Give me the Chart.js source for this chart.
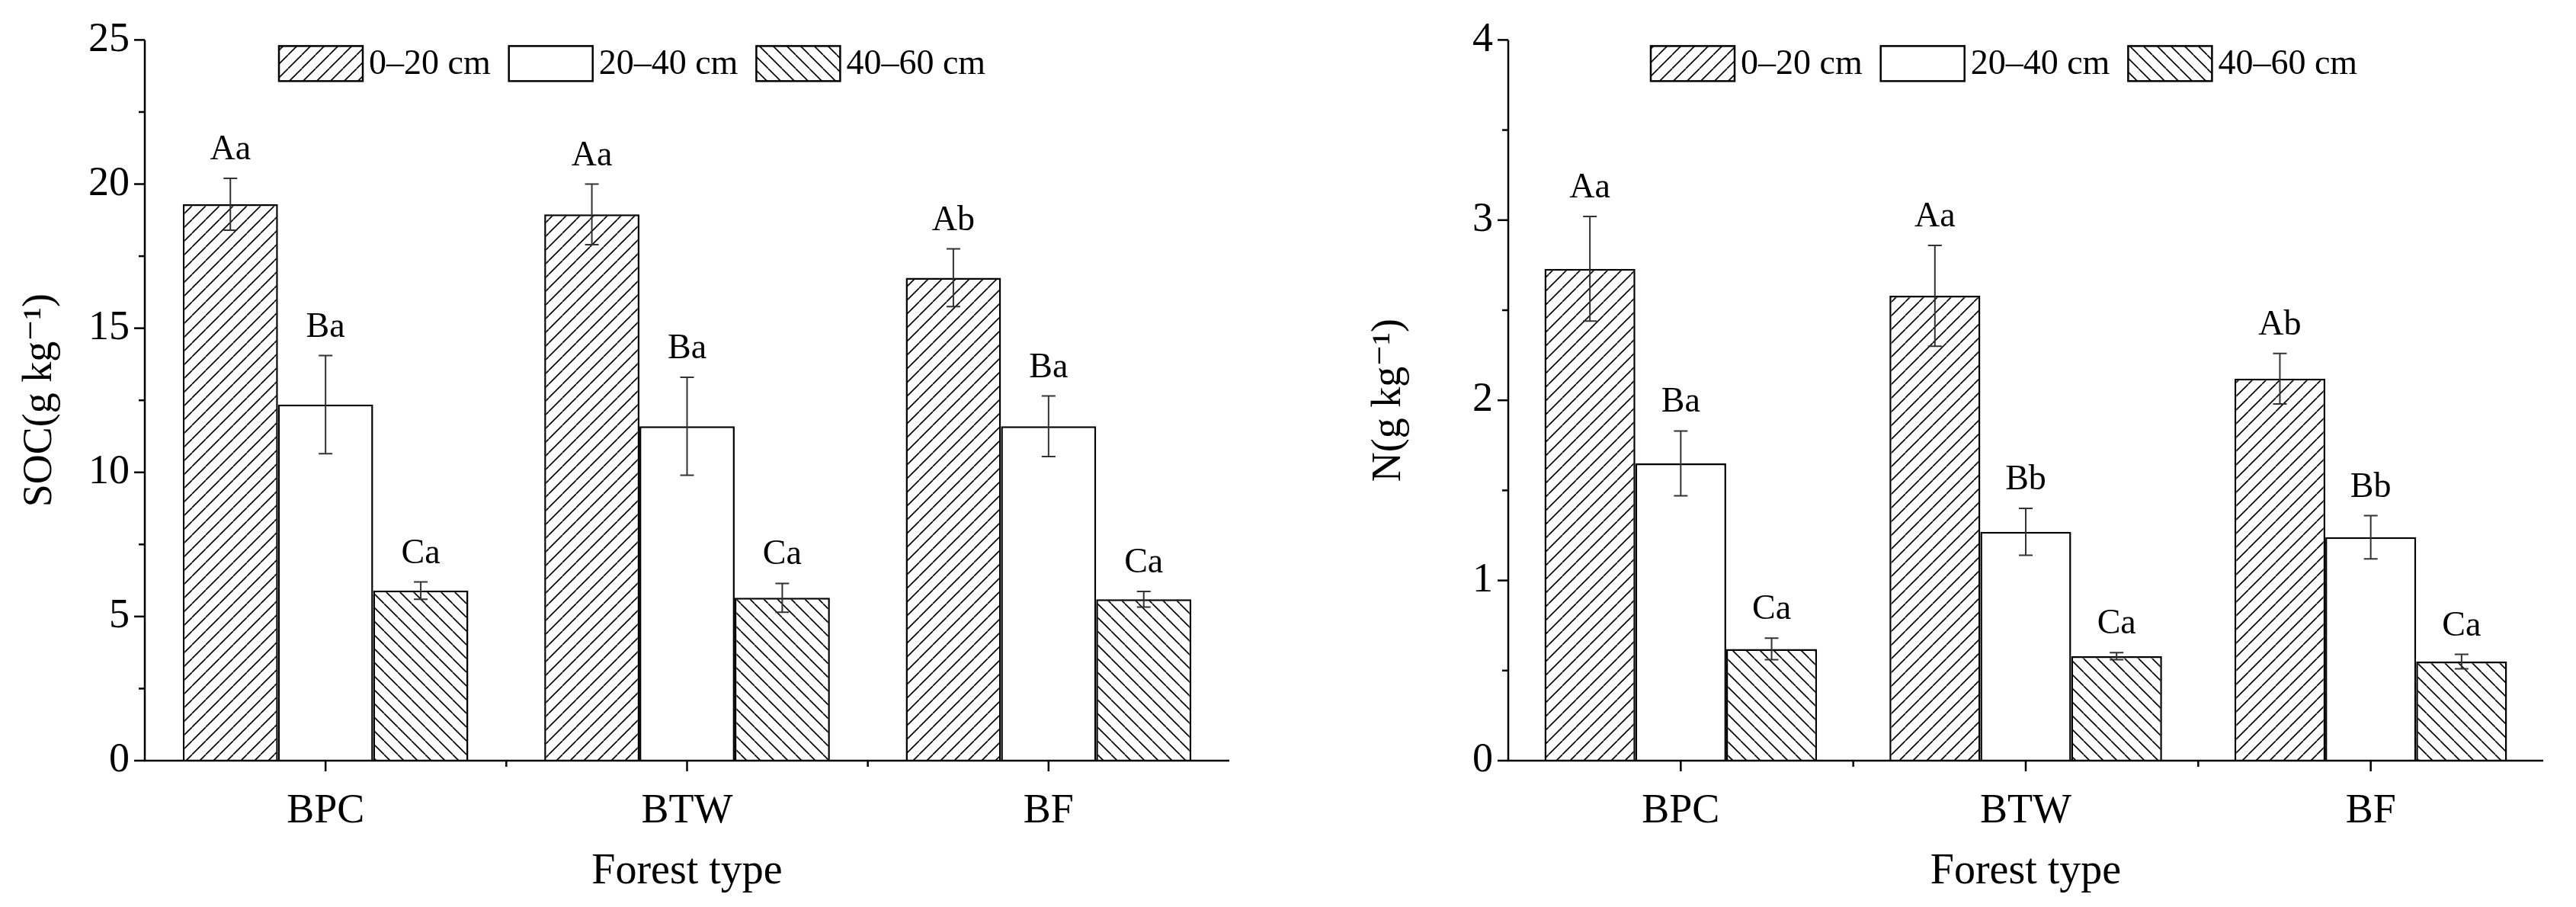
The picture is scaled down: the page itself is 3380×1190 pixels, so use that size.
<!DOCTYPE html>
<html><head><meta charset="utf-8">
<script src="https://cdn.jsdelivr.net/npm/chart.js@4"></script>
<style>html,body{margin:0;padding:0;background:#fff;width:3380px;height:1190px;overflow:hidden}
.w{position:absolute;top:0;width:1690px;height:1190px}</style></head>
<body>
<div class="w" style="left:0"><canvas id="c1"></canvas></div>
<div class="w" style="left:1690px"><canvas id="c2"></canvas></div>
<script>
const categories = ['BPC','BTW','BF'];
const depthLabels = ['0–20 cm','20–40 cm','40–60 cm'];
const soc0 = [19.3, 18.95, 16.75], soc1 = [12.35, 11.6, 11.6], soc2 = [5.9, 5.65, 5.6];
const socErr0 = [0.9, 1.05, 1.0], socErr1 = [1.7, 1.7, 1.05], socErr2 = [0.3, 0.5, 0.27];
const socLet0 = ['Aa','Aa','Ab'], socLet1 = ['Ba','Ba','Ba'], socLet2 = ['Ca','Ca','Ca'];
const n0 = [2.73, 2.58, 2.12], n1 = [1.65, 1.27, 1.24], n2 = [0.62, 0.58, 0.55];
const nErr0 = [0.29, 0.28, 0.14], nErr1 = [0.18, 0.13, 0.12], nErr2 = [0.06, 0.02, 0.04];
const nLet0 = ['Aa','Aa','Ab'], nLet1 = ['Ba','Bb','Bb'], nLet2 = ['Ca','Ca','Ca'];
const socTicks = [0,5,10,15,20,25];
const nTicks = [0,1,2,3,4];

const FONT = '"Liberation Serif", "DejaVu Serif", serif';
function hatch(dir){
  const s = 18, c = document.createElement('canvas'); c.width = s; c.height = s;
  const g = c.getContext('2d'); g.fillStyle='#fff'; g.fillRect(0,0,s,s);
  g.strokeStyle='#000'; g.lineWidth=1.6; g.beginPath();
  if(dir>0){ for(let k=-1;k<=1;k++){ g.moveTo(k*s, s); g.lineTo(k*s+s, 0);} }
  else { for(let k=-1;k<=1;k++){ g.moveTo(k*s, 0); g.lineTo(k*s+s, s);} }
  g.stroke(); return g.createPattern(c,'repeat');
}
const fills = [hatch(1), '#ffffff', hatch(-1)];

const overlay = {
  id:'overlay',
  afterDatasetsDraw(chart, a, opts){
    const ctx = chart.ctx, ys = chart.scales.y, xs = chart.scales.x, ca = chart.chartArea;
    ctx.save();
    chart.data.datasets.forEach((ds, di) => {
      const meta = chart.getDatasetMeta(di);
      meta.data.forEach((bar, i) => {
        const v = ds.data[i], e = ds.err[i];
        const yt = ys.getPixelForValue(v+e), yb = ys.getPixelForValue(v-e);
        ctx.strokeStyle='#333'; ctx.lineWidth=2;
        ctx.beginPath(); ctx.moveTo(bar.x, yt); ctx.lineTo(bar.x, yb);
        ctx.moveTo(bar.x-9, yt); ctx.lineTo(bar.x+9, yt);
        ctx.moveTo(bar.x-9, yb); ctx.lineTo(bar.x+9, yb); ctx.stroke();
        ctx.fillStyle='#000'; ctx.font='46px '+FONT; ctx.textAlign='center'; ctx.textBaseline='bottom';
        ctx.fillText(ds.letters[i], bar.x, yt-14);
      });
    });
    ctx.strokeStyle='#000'; ctx.lineWidth=2.5;
    ctx.beginPath(); ctx.moveTo(ca.left, ca.top); ctx.lineTo(ca.left, ca.bottom); ctx.lineTo(ca.right, ca.bottom); ctx.stroke();
    const st = opts.step;
    for(let v=0; v<=ys.max+1e-9; v+=st/2){
      const y = ys.getPixelForValue(v); const major = Math.abs(v/st - Math.round(v/st))<1e-6;
      ctx.beginPath(); ctx.moveTo(ca.left, y); ctx.lineTo(ca.left-(major?14:8), y); ctx.stroke();
    }
    const n = categories.length;
    for(let i=0;i<n;i++){
      const c = xs.getPixelForValue(i);
      ctx.beginPath(); ctx.moveTo(c, ca.bottom); ctx.lineTo(c, ca.bottom+14); ctx.stroke();
      if(i<n-1){ const b=(c+xs.getPixelForValue(i+1))/2; ctx.beginPath(); ctx.moveTo(b, ca.bottom); ctx.lineTo(b, ca.bottom+8); ctx.stroke(); }
    }
    let lx = opts.legX, ly = ca.top + 8;
    ctx.font='46px '+FONT; ctx.textAlign='left'; ctx.textBaseline='middle';
    chart.data.datasets.forEach((ds) => {
      ctx.fillStyle = ds.backgroundColor; ctx.fillRect(lx, ly, 110, 46);
      ctx.lineWidth=2.5; ctx.strokeRect(lx, ly, 110, 46);
      ctx.fillStyle='#000'; ctx.fillText(ds.label, lx+118, ly+25);
      lx += 118 + ctx.measureText(ds.label).width + 24;
    });
    ctx.restore();
  }
};

function make(id, vals, errs, lets, ticks, yTitle, pad, yw, legX){
  const max = ticks[ticks.length-1], step = ticks[1]-ticks[0];
  new Chart(document.getElementById(id), {
    type:'bar',
    data:{ labels: categories,
      datasets: vals.map((d,k)=>({label:depthLabels[k], data:d, err:errs[k], letters:lets[k],
        backgroundColor:fills[k], borderColor:'#000', borderWidth:2.5, borderSkipped:'bottom',
        barPercentage:1.0, categoryPercentage:0.79})) },
    options:{ responsive:false, animation:false, devicePixelRatio:1,
      layout:{padding:pad},
      plugins:{legend:{display:false}, tooltip:{enabled:false}, overlay:{step, legX}},
      scales:{
        x:{ grid:{display:false, drawTicks:false}, border:{display:false},
            ticks:{color:'#000', font:{family:FONT,size:54}, padding:34},
            title:{display:true, text:'Forest type', color:'#000', font:{family:FONT,size:56}, padding:{top:38}},
            afterFit(s){ s.height = 1190-998-pad.bottom; } },
        y:{ min:0, max:max, grid:{display:false, drawTicks:false}, border:{display:false},
            afterBuildTicks(s){ s.ticks = ticks.map(v=>({value:v})); },
            ticks:{color:'#000', font:{family:FONT,size:54}, padding:20},
            title:{display:true, text:yTitle, color:'#000', font:{family:FONT,size:54}, padding:{bottom:4}},
            afterFit(s){ s.width = yw; } }
      } },
    plugins:[overlay]
  });
}
function sizeCanvas(id){ const c=document.getElementById(id); c.width=1690; c.height=1190; c.style.width='1690px'; c.style.height='1190px'; }
sizeCanvas('c1'); sizeCanvas('c2');
make('c1', [soc0,soc1,soc2], [socErr0,socErr1,socErr2], [socLet0,socLet1,socLet2], socTicks, 'SOC(g kg⁻¹)',
  {top:39,right:77,bottom:8,left:16}, 174, 366);
make('c2', [n0,n1,n2], [nErr0,nErr1,nErr2], [nLet0,nLet1,nLet2], nTicks, 'N(g kg⁻¹)',
  {top:39,right:43,bottom:8,left:96}, 193, 476);
</script>
</body></html>
